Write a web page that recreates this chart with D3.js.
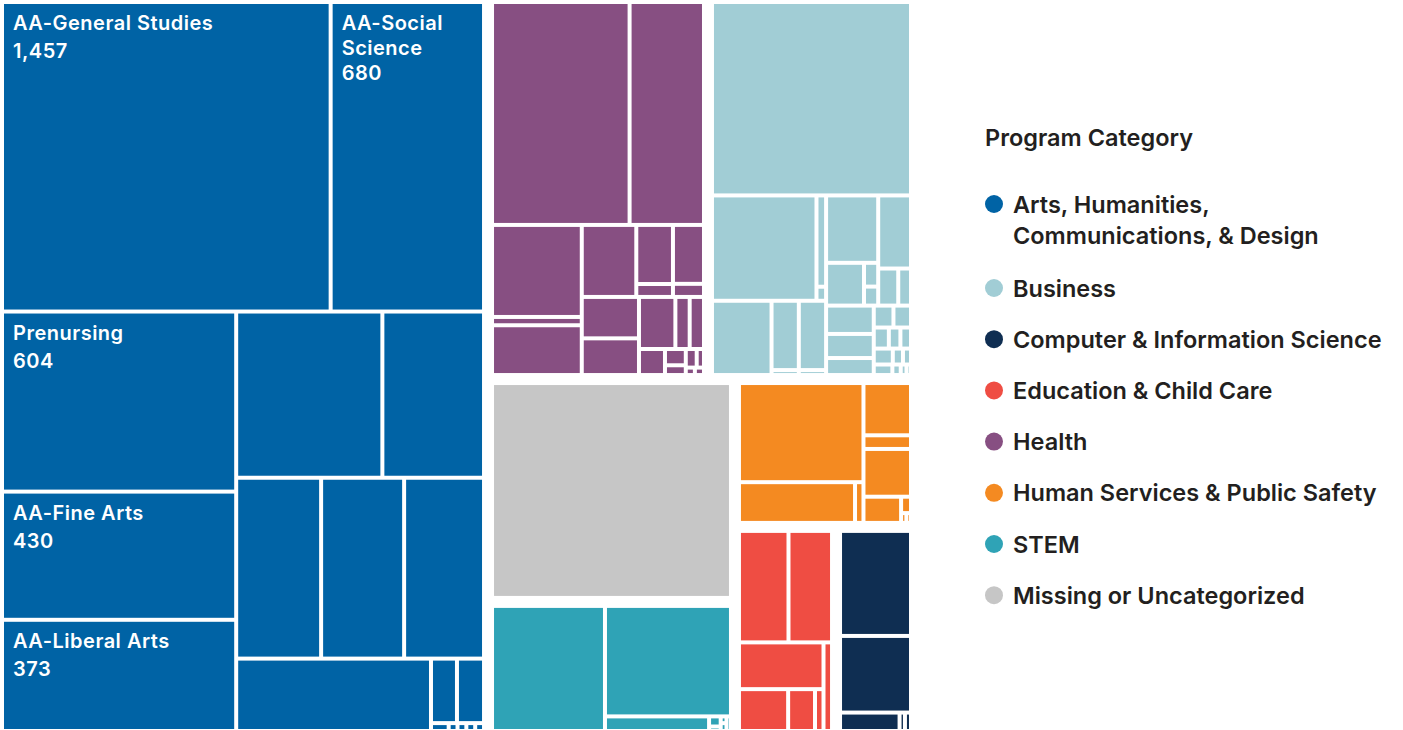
<!DOCTYPE html>
<html>
<head>
<meta charset="utf-8">
<script src="https://cdn.jsdelivr.net/npm/d3@7"></script>
<style>
html, body { margin: 0; padding: 0; background: #ffffff; }
svg { display: block; font-family: Inter, "Open Sans", "Noto Sans", sans-serif; }
</style>
</head>
<body>
<svg id="chart" width="1403" height="730"></svg>
<script>
// ---------- DATA ----------
const categories = [
  "Arts, Humanities, Communications, & Design",
  "Business",
  "Computer & Information Science",
  "Education & Child Care",
  "Health",
  "Human Services & Public Safety",
  "STEM",
  "Missing or Uncategorized"
];
const categoryColors = ["#0063a5", "#a1cdd5", "#0f2e52", "#ef4d43", "#874f82", "#f48a21", "#2fa3b6", "#c6c6c6"];
const legendLines = [
  ["Arts, Humanities,", "Communications, & Design"],
  ["Business"],
  ["Computer & Information Science"],
  ["Education & Child Care"],
  ["Health"],
  ["Human Services & Public Safety"],
  ["STEM"],
  ["Missing or Uncategorized"]
];
const legendTitle = "Program Category";

// Program enrollments per category (nested arrays = rows / columns of programs)
const artsValues = [[1457, 680], [[604, 430, 373], [[348, 242], [220, 215, 207], [202, [[24, 25], [2, 1, 1, 1, 1]]]]]];
const artsLabels = ["AA-General Studies", "AA-Social Science", "Prenursing", "AA-Fine Arts", "AA-Liberal Arts"];
const healthValues = [[453, 245], [[122, 11, 66], [[58, [32, 7], [27, 6]], [[35, 31], [[28, 11, 11], [10, [5, 3], [[3, 2], [1, 1]]]]]]]];
const businessValues = [570, [
  [[163, [13, 2]], [65.5, [28, 2], [28, 2]]],
  [[[52, [24, [5, 4]]], [35.5, [11, 7]]],
   [[20, 17, 12], [[6.4, 5.7], [4.7, 3.6, 3.3], [4.5, 2.4, 1.9], [2.9, 1.3, 0.9, 0.7]]]]
]];
const missingValues = [767];
const stemValues = [216.5, [213.3, [23.3, [[[1.8, 0.8], [0.6, 0.7], 1.0]]]]];
const humanValues = [[190.3, [72.9, 5.3]], [38.3, 10, 35, [15.2, [2.5, [0.8, 0.7]]]]];
const educationValues = [[86.9, 76.4], [[62.2, [32.4, 17.7, 5.6]], 11.9]];
const computerValues = [120.2, 87.7, [17.7, 1.6, 1.8]];

// ---------- HIERARCHY ----------
function toNode(item, cat) {
  if (Array.isArray(item)) return { cat: cat, children: item.map(c => toNode(c, cat)) };
  return { cat: cat, value: item };
}
function catNode(i, vals) { const n = toNode(vals, i); n.isCat = true; return n; }
function group() { return { struct: true, children: Array.from(arguments) }; }

const data = group(
  catNode(0, artsValues),
  group(
    group(catNode(4, healthValues), catNode(1, businessValues)),
    group(
      group(catNode(7, missingValues), catNode(6, stemValues)),
      group(catNode(5, humanValues), group(catNode(3, educationValues), catNode(2, computerValues)))
    )
  )
);

const root = d3.hierarchy(data).sum(d => d.children ? 0 : d.value);
d3.treemap()
  .size([905, 725])
  .tile(d3.treemapSliceDice)
  .paddingInner(d => d.data.struct ? 12 : 4)
  .round(false)(root);

const svg = d3.select("#chart");
const g = svg.append("g").attr("transform", "translate(4,4)");
const color = d3.scaleOrdinal().domain(d3.range(categories.length)).range(categoryColors);

const leaves = root.leaves();
g.selectAll("rect.cell").data(leaves).enter().append("rect")
  .attr("class", "cell")
  .attr("x", d => d.x0)
  .attr("y", d => d.y0)
  .attr("width", d => Math.max(0, d.x1 - d.x0))
  .attr("height", d => Math.max(0, d.y1 - d.y0))
  .attr("fill", d => color(d.data.cat));

// labels on the first Arts programs
const artsLeaves = leaves.filter(d => d.data.cat === 0);
const fmt = d3.format(",");
const labelStyle = sel => sel.attr("fill", "#ffffff").attr("font-size", 20)
  .attr("font-weight", 600).attr("letter-spacing", 0.5);
artsLabels.forEach((label, i) => {
  const d = artsLeaves[i];
  const maxW = d.x1 - d.x0 - 18;
  const probe = g.append("text").call(labelStyle);
  const words = label.split(" ");
  const lines = [];
  let cur = "";
  words.forEach(w => {
    const test = cur ? cur + " " + w : w;
    probe.text(test);
    if (probe.node().getComputedTextLength() > maxW && cur) { lines.push(cur); cur = w; }
    else cur = test;
  });
  lines.push(cur);
  probe.remove();
  lines.forEach((ln, j) => {
    g.append("text").call(labelStyle)
      .attr("x", d.x0 + 9).attr("y", d.y0 + 26 + j * 24.5).text(ln);
  });
  const lastY = d.y0 + 26 + (lines.length - 1) * 24.5;
  g.append("text").call(labelStyle)
    .attr("x", d.x0 + 9).attr("y", lastY + (lines.length > 1 ? 25 : 28))
    .text(fmt(d.value));
});

// ---------- LEGEND ----------
const lg = svg.append("g");
lg.append("text").attr("x", 985).attr("y", 146)
  .attr("font-size", 23.5).attr("font-weight", 600).attr("fill", "#231f20")
  .text(legendTitle);
const centers = legendLines.map((l, i) => i === 0 ? 204 : 288 + (i - 1) * 51.2);
legendLines.forEach((lines, i) => {
  lg.append("circle").attr("cx", 994).attr("cy", centers[i]).attr("r", 9).attr("fill", categoryColors[i]);
  lines.forEach((ln, j) => {
    lg.append("text").attr("font-size", 23.5).attr("font-weight", 600).attr("fill", "#231f20")
      .attr("x", 1013).attr("y", centers[i] + 8.5 + j * 31).text(ln);
  });
});
</script>
</body>
</html>
